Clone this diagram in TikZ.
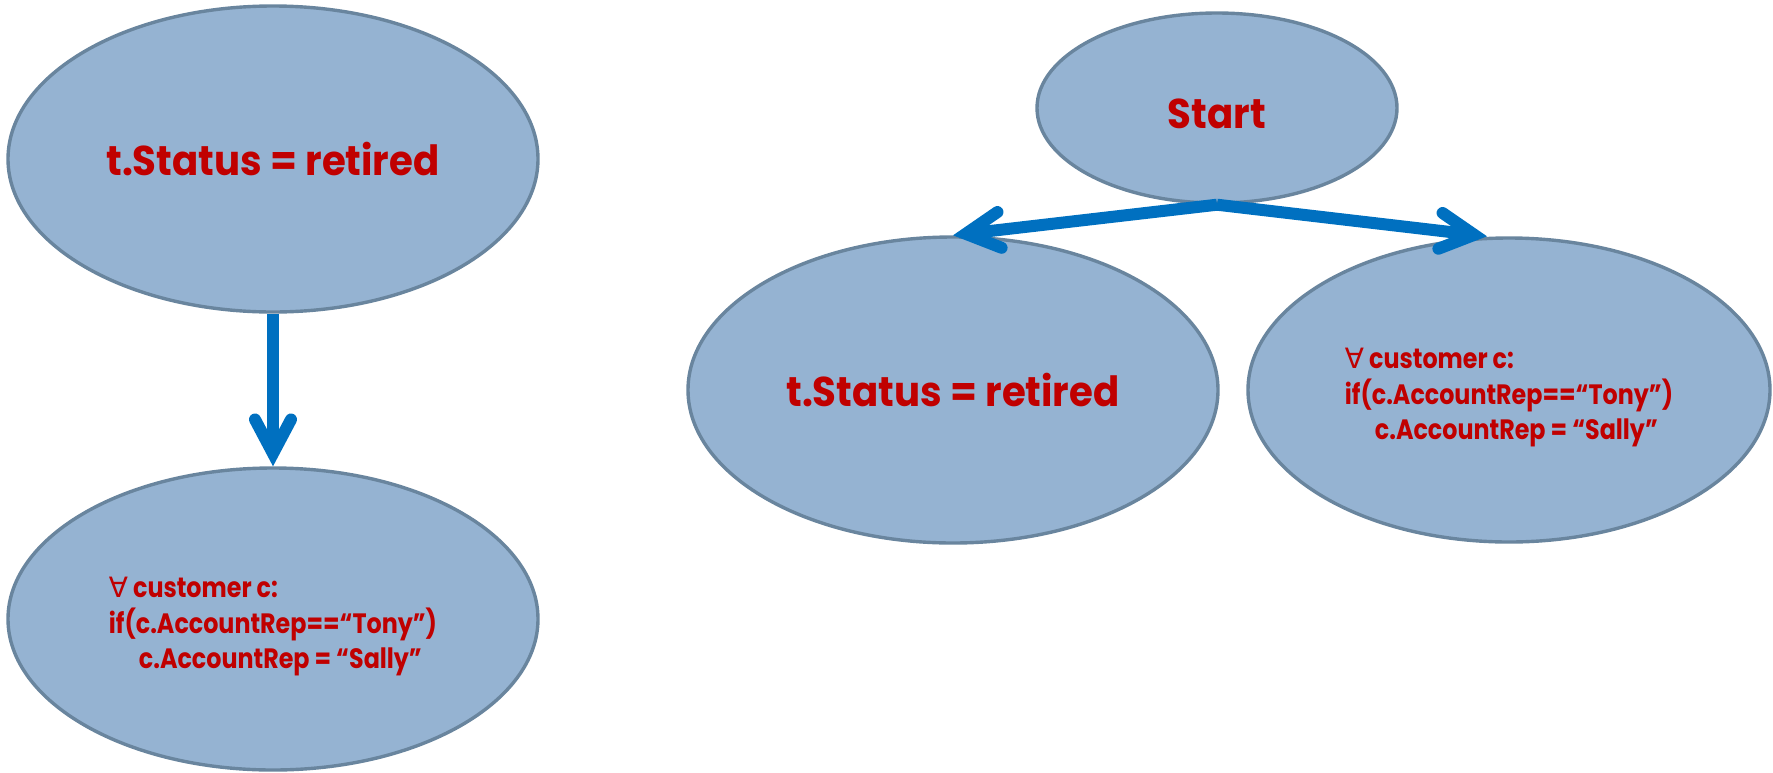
\documentclass[tikz,border=0pt]{standalone}
\usepackage{fontspec}
\newfontfamily\pop[FakeStretch=0.93]{Poppins}
\newfontfamily\popn[FakeStretch=0.85]{Poppins}
\newfontfamily\djv{DejaVu Sans}
\usetikzlibrary{arrows.meta,calc,shapes.geometric}
\definecolor{ellfill}{RGB}{149,179,210}
\definecolor{elldraw}{RGB}{105,133,158}
\definecolor{txtred}{RGB}{192,0,0}
\definecolor{arrblue}{RGB}{0,112,192}
\newcommand{\rulebody}{\raisebox{-3.5pt}[\height][\depth]{\begin{tabular}{@{}l@{}}{\djv\mdseries ∀} customer c:\\if(c.AccountRep==“Tony”)\\\hspace*{15pt}c.AccountRep = “Sally”\end{tabular}}}
\begin{document}
\begin{tikzpicture}[x=0.5pt,y=-0.5pt,
  ell/.style={ellipse, fill=ellfill, draw=elldraw, line width=1.7pt, inner sep=0pt, text=txtred},
  bigtxt/.style={font=\pop\bfseries\fontsize{20.8pt}{25pt}\selectfont},
  smalltxt/.style={font=\popn\bfseries\fontsize{14pt}{17.25pt}\selectfont},
  arr/.style={draw=arrblue, line width=6pt, -{Straight Barb[length=17pt,width=18pt,line cap=round,line join=miter]}}]
\useasboundingbox (0,0) rectangle (1773,772);
\node[ell, bigtxt, minimum width=265pt, minimum height=153pt] (TL) at (273,159) {t.Status = retired};
\node[ell, smalltxt, minimum width=265pt, minimum height=151pt] (BL) at (273,619) {\rulebody};
\node[ell, bigtxt, minimum width=180pt, minimum height=95pt] (S) at (1217,108) {\raisebox{-3pt}[\height][\depth]{Start}};
\node[ell, bigtxt, minimum width=265pt, minimum height=153pt] (M) at (953,390) {t.Status = retired};
\node[ell, smalltxt, minimum width=261pt, minimum height=152pt] (R) at (1509,390) {\rulebody};
\coordinate (Rin) at ($(R.north)+(-22,0)$);
\draw[arr] (TL.south) -- (BL.north);
\draw[arr] (S.south) -- (M.north);
\draw[arr] (S.south) -- (Rin);
\end{tikzpicture}
\end{document}
